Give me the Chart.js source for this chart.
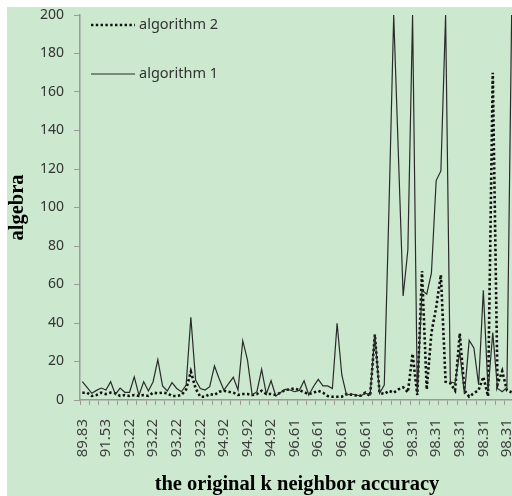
<!DOCTYPE html>
<html><head><meta charset="utf-8">
<script src="https://cdn.jsdelivr.net/npm/chart.js@4.4.1/dist/chart.umd.min.js"></script>
<style>
html,body{margin:0;padding:0;background:#fff;overflow:hidden;width:512px;height:496px;}
#wrap{position:absolute;left:7px;top:7px;width:510px;height:489px;background:#cce8cf;}
canvas{display:block;}
</style></head><body>
<div id="wrap"><canvas id="c" width="510" height="489"></canvas></div>
<script>
const categories = [
 "89.83","91.53","91.53","91.53","91.53","91.53","93.22","93.22","93.22","93.22",
 "93.22","93.22","93.22","93.22","93.22","93.22","93.22","93.22","93.22","93.22",
 "93.22","93.22","93.22","93.22","93.22","93.22","93.22","93.22","93.22","93.22",
 "94.92","94.92","94.92","94.92","94.92","94.92","94.92","94.92","94.92","94.92",
 "94.92","94.92","94.92","94.92","94.92","96.61","96.61","96.61","96.61","96.61",
 "96.61","96.61","96.61","96.61","96.61","96.61","96.61","96.61","96.61","96.61",
 "96.61","96.61","96.61","96.61","96.61","96.61","96.61","96.61","96.61","96.61",
 "98.31","98.31","98.31","98.31","98.31","98.31","98.31","98.31","98.31","98.31",
 "98.31","98.31","98.31","98.31","98.31","98.31","98.31","98.31","98.31","98.31",
 "98.31","98.31"
];
const algorithm1 = [
 9.5,6.5,3.5,5,6.2,5.2,9.5,2.9,6.2,4,
 4,12,2.5,9.5,4.7,9.5,21,7.3,4.7,9,
 6,4.3,7.8,43,10.4,6,5.2,6.9,17.7,11,
 5.2,8.5,11.8,5.2,30.8,20.8,2.6,4.3,15.9,3.1,
 10,2.1,3.9,5.5,5.2,4.3,5,10,2.6,7,
 10.7,7.3,7.3,6,39.8,13,2.6,3.1,2.6,2.1,
 3.5,2.6,34,3.5,7.8,100,200,127,54,78,
 200,3,57,55,66,114,119,200,9.5,8.7,
 25,3,31,27,8,57,5,35,6,4.3,
 6.5,200
];
const algorithm2 = [
 3.8,3.8,2.1,2.6,3.8,3.1,3.8,3.5,2.1,2.6,
 2.1,2.6,2.1,2.6,2.1,3.8,3.5,3.8,3.5,2.1,
 2.1,2.6,5.5,14.7,6,1.7,1.7,3.1,2.6,4.3,
 4.8,4.3,3.8,2.6,3.1,3.1,2.6,3.1,4.8,3.1,
 3.1,2.6,3.8,5.2,5.5,6,5.2,4,3.1,3.8,
 4.8,3.8,2.1,1.7,1.7,1.7,3.1,2.8,2.4,2.2,
 3.8,2.1,34,3.8,3.1,4.8,3.8,5.5,6.6,4,
 24,2.6,67,5.5,35,48,65,9.5,8.7,5,
 34.6,5,1.7,3.5,5.2,12,2,170,8,15,
 5,4
];
const seriesNames = ["algorithm 1","algorithm 2"];
const yMin = 0, yMax = 200, yStep = 20;

const axisGray = '#9a9a9a';
const yTickFont = {family:"'Noto Sans', sans-serif", size:14};
const xTickFont = {family:"'Noto Sans', sans-serif", size:15};
const titleFont = {family:"'Liberation Serif', 'Times New Roman', serif", size:20.5, weight:'bold', lineHeight:1.1};

const insideLegend = {
  id:'insideLegend',
  afterDraw(chart){
    const ctx = chart.ctx, a = chart.chartArea;
    const order = [1,0];
    const ys = [a.top+10, a.top+59];
    ctx.save();
    order.forEach((di,k)=>{
      const ds = chart.data.datasets[di];
      const y = ys[k];
      ctx.beginPath();
      ctx.strokeStyle = ds.borderColor;
      ctx.lineWidth = ds.borderWidth;
      ctx.setLineDash(ds.borderDash || []);
      ctx.moveTo(a.left+11, y);
      ctx.lineTo(a.left+55, y);
      ctx.stroke();
      ctx.setLineDash([]);
      ctx.fillStyle = '#333';
      ctx.font = "14.5px 'Noto Sans', sans-serif";
      ctx.textBaseline = 'middle';
      ctx.textAlign = 'left';
      ctx.fillText(ds.label, a.left+59, y);
    });
    ctx.restore();
  }
};

new Chart(document.getElementById('c'), {
  type:'line',
  data:{
    labels: categories,
    datasets:[
      {label:seriesNames[0], data:algorithm1, borderColor:'#2b2b2b', borderWidth:1.2,
       pointRadius:0, tension:0, fill:false},
      {label:seriesNames[1], data:algorithm2, borderColor:'#111', borderWidth:2.6,
       borderDash:[2.4,2.4], pointRadius:0, tension:0, fill:false}
    ]
  },
  options:{
    responsive:false, animation:false, devicePixelRatio:1,
    layout:{padding:{top:8,right:3,left:0,bottom:0}},
    plugins:{legend:{display:false}, tooltip:{enabled:false}},
    scales:{
      x:{
        type:'category', offset:true,
        grid:{offset:true, drawOnChartArea:false, tickLength:5,
              tickColor:(c)=> (c.index%2===0 ? axisGray : 'rgba(0,0,0,0)')},
        border:{color:axisGray, width:1.5},
        ticks:{autoSkip:false, maxRotation:90, minRotation:90, padding:14,
               color:'#404040', font:xTickFont,
               callback:(v,i)=> (i%5===0 ? categories[i] : '')},
        title:{display:true, text:'the original k neighbor accuracy', color:'#000',
               font:titleFont, padding:{top:0,bottom:0}},
        afterFit:(s)=>{ s.height = 96; s.paddingLeft = 0; s.paddingRight = 0; }
      },
      y:{
        min:yMin, max:yMax,
        grid:{drawOnChartArea:false, tickLength:6, color:axisGray},
        border:{color:axisGray, width:1.5},
        ticks:{stepSize:yStep, color:'#333', font:yTickFont, padding:10},
        title:{display:true, text:'algebra', color:'#000',
               font:{family:"'Liberation Serif', 'Times New Roman', serif", size:20.5, weight:'bold', lineHeight:1.0},
               padding:{top:0,bottom:0}},
        afterFit:(s)=>{ s.width = 73; s.paddingTop = 0; s.paddingBottom = 0; }
      }
    }
  },
  plugins:[insideLegend]
});
</script>
</body></html>
